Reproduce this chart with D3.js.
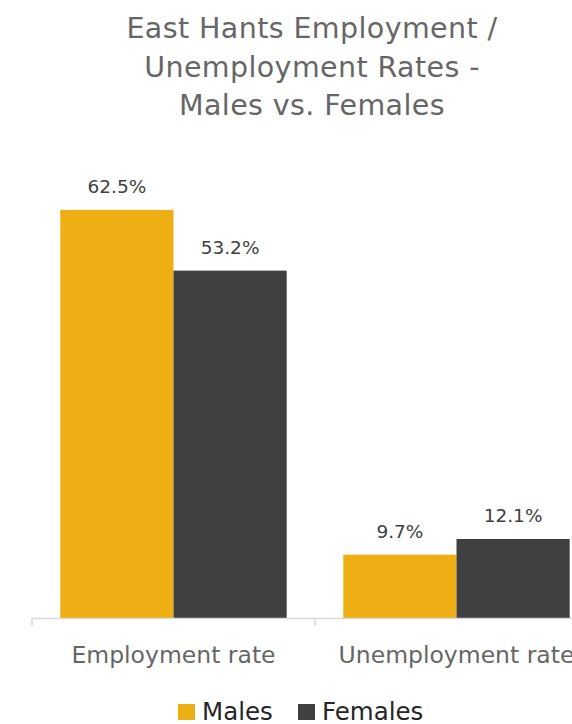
<!DOCTYPE html>
<html>
<head>
<meta charset="utf-8">
<script src="https://cdn.jsdelivr.net/npm/d3@7"></script>
<style>
body { margin: 0; background: #fff; }
svg { display: block; font-family: "DejaVu Sans", sans-serif; }
</style>
</head>
<body>
<svg class="chart" width="572" height="724"></svg>
<script>
var categories = ["Employment rate", "Unemployment rate"];
var seriesNames = ["Males", "Females"];
var males = [62.5, 9.7];
var females = [53.2, 12.1];
var colors = ["#EDAF14", "#404041"];
var titleLines = ["East Hants Employment /", "Unemployment Rates -", "Males vs. Females"];

var svg = d3.select(".chart");

// plot area runs past the right edge of the picture, like the original
var x0 = d3.scaleBand().domain(categories).range([32, 598]).paddingInner(0).paddingOuter(0);
var x1 = d3.scaleBand().domain(seriesNames).range([0, x0.bandwidth()]).paddingInner(0).paddingOuter(0.25);
var y = d3.scaleLinear().domain([0, 70]).range([618, 618 - 70 * 6.53]);

var data = [];
categories.forEach(function(c, i) {
    data.push({cat: c, s: "Males", v: males[i], col: colors[0]});
    data.push({cat: c, s: "Females", v: females[i], col: colors[1]});
});

// title
svg.append("g").selectAll("text")
.data(titleLines)
.enter().append("text")
.attr("x", 312)
.attr("y", function(d, i) { return 38 + i * 38.5; })
.attr("text-anchor", "middle")
.attr("font-size", 28.5)
.attr("letter-spacing", 0.4)
.attr("fill", "#666666")
.text(function(d) { return d; });

// bars
svg.append("g").selectAll("rect")
.data(data)
.enter().append("rect")
.attr("x", function(d) { return x0(d.cat) + x1(d.s); })
.attr("y", function(d) { return y(d.v); })
.attr("width", x1.bandwidth())
.attr("height", function(d) { return y(0) - y(d.v); })
.attr("fill", function(d) { return d.col; });

// value labels
svg.append("g").selectAll("text")
.data(data)
.enter().append("text")
.attr("x", function(d) { return x0(d.cat) + x1(d.s) + x1.bandwidth() / 2; })
.attr("y", function(d) { return y(d.v) - 17; })
.attr("text-anchor", "middle")
.attr("font-size", 18.5)
.attr("fill", "#404040")
.text(function(d) { return d.v.toFixed(1) + "%"; });

// x axis
var axis = svg.append("g")
.attr("transform", "translate(0,618)")
.call(d3.axisBottom(x0).tickSize(0).tickPadding(0));
axis.select(".domain").attr("stroke", "#d9d9d9").attr("stroke-width", 1.5);
axis.selectAll(".tick text")
.attr("y", 45).attr("dy", 0)
.attr("font-size", 23.5)
.attr("fill", "#666666")
.attr("font-family", "'DejaVu Sans', sans-serif");
axis.selectAll(".tickmark")
.data(categories.concat(["end"]))
.enter().append("line")
.attr("class", "tickmark")
.attr("x1", function(d) { return d == "end" ? x0.range()[1] : x0(d); })
.attr("x2", function(d) { return d == "end" ? x0.range()[1] : x0(d); })
.attr("y1", 0)
.attr("y2", 8)
.attr("stroke", "#d9d9d9")
.attr("stroke-width", 1.5);

// legend
var legend = svg.append("g").attr("transform", "translate(178,704)");
var items = legend.selectAll("g")
.data(seriesNames)
.enter().append("g")
.attr("transform", function(d, i) { return "translate(" + (i * 120) + ",0)"; });
items.append("rect")
.attr("width", 17)
.attr("height", 16)
.attr("fill", function(d, i) { return colors[i]; });
items.append("text")
.attr("x", 24)
.attr("y", 16)
.attr("font-size", 24.5)
.attr("fill", "#262626")
.text(function(d) { return d; });
</script>
</body>
</html>
